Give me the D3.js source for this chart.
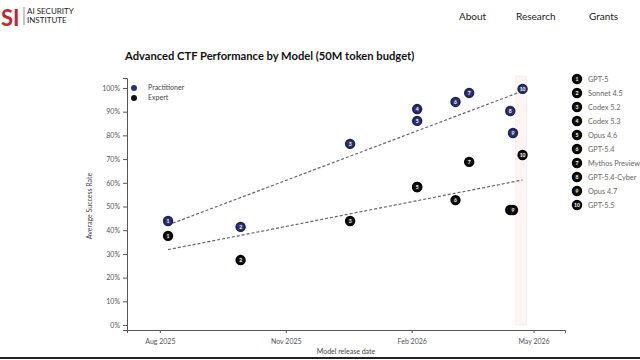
<!DOCTYPE html>
<html lang="en">
	<head>
		<meta charset="utf-8">
		<title>Advanced CTF Performance by Model</title>
		<script type="text/javascript" src="https://cdn.jsdelivr.net/npm/d3@7"></script>
		<style type="text/css">
			body { margin: 0; background: #fff; }
			svg { display: block; font-family: Lato, "Noto Sans", sans-serif; }
		</style>
	</head>
	<body>
		<script type="text/javascript">

			// Data
			var models = ["GPT-5", "Sonnet 4.5", "Codex 5.2", "Codex 5.3", "Opus 4.6",
				"GPT-5.4", "Mythos Preview", "GPT-5.4-Cyber", "Opus 4.7", "GPT-5.5"];
			var releaseDates = ["2025-08-07", "2025-09-29", "2025-12-18", "2026-02-05", "2026-02-05",
				"2026-03-05", "2026-03-15", "2026-04-14", "2026-04-16", "2026-04-23"];
			var practitioner = [43.9, 41.4, 76.4, 91.1, 86.1, 94.1, 97.9, 90.3, 81.0, 99.6];
			var expert = [37.6, 27.4, 43.9, 58.2, 58.2, 52.7, 68.8, 48.5, 48.5, 71.7];
			var yTicks = [0, 10, 20, 30, 40, 50, 60, 70, 80, 90, 100];
			var xTicks = ["2025-08-01", "2025-11-01", "2026-02-01", "2026-05-01"];
			var xDomain = ["2025-07-08", "2026-05-24"];
			var band = ["2026-04-18", "2026-04-26"];
			var navLinks = ["About", "Research", "Grants"];

			//Width and height
			var w = 640;
			var h = 360;

			var parse = d3.timeParse("%Y-%m-%d");
			var dates = releaseDates.map(parse);

			var svg = d3.select("body")
						.append("svg")
						.attr("width", w)
						.attr("height", h);

			// header
			svg.append("text").attr("x", 1).attr("y", 26)
				.attr("font-size", 22).attr("font-weight", 700)
				.attr("fill", "#c3262f").text("SI");
			svg.append("line").attr("x1", 24).attr("x2", 24).attr("y1", 7).attr("y2", 25)
				.attr("stroke", "#777").attr("stroke-width", 0.8);
			svg.append("text").attr("x", 27).attr("y", 14)
				.attr("font-size", 8).attr("fill", "#222").text("AI SECURITY");
			svg.append("text").attr("x", 27).attr("y", 23)
				.attr("font-size", 8).attr("fill", "#222").text("INSTITUTE");

			var navX = [459, 516, 589];
			svg.selectAll(".nav")
				.data(navLinks)
				.enter()
				.append("text")
				.attr("class", "nav")
				.attr("x", function(d, i) { return navX[i]; })
				.attr("y", 20)
				.attr("font-size", 10)
				.attr("fill", "#222")
				.text(function(d) { return d; });

			// title
			svg.append("text").attr("x", 125).attr("y", 60)
				.attr("font-size", 11.2).attr("font-weight", 700)
				.attr("fill", "#111")
				.text("Advanced CTF Performance by Model (50M token budget)");

			// scales
			var x = d3.scaleTime()
				.domain(xDomain.map(parse))
				.range([127, 565]);

			var y = d3.scaleLinear()
				.domain([-2.1, 104.2])
				.range([330, 78]);

			// highlighted band
			svg.append("rect")
				.attr("x", x(parse(band[0])))
				.attr("y", 76)
				.attr("width", x(parse(band[1])) - x(parse(band[0])))
				.attr("height", y(0) - 76)
				.attr("fill", "#fdf4f3")
				.attr("stroke", "#fbe6e4")
				.attr("stroke-width", 0.6);

			// axes
			var xAxis = d3.axisBottom(x)
				.tickValues(xTicks.map(parse))
				.tickFormat(d3.timeFormat("%b %Y"))
				.tickSizeOuter(0)
				.tickSize(3);

			var yAxis = d3.axisLeft(y)
				.tickValues(yTicks)
				.tickFormat(function(d) { return d + "%"; })
				.tickSizeOuter(0)
				.tickSize(4);

			var gx = svg.append("g")
				.attr("transform", "translate(0,330)")
				.call(xAxis);
			var gy = svg.append("g")
				.attr("transform", "translate(127,0)")
				.call(yAxis);

			[gx, gy].forEach(function(g) {
				g.select(".domain").attr("stroke", "#555");
				g.selectAll(".tick line").attr("stroke", "#555");
				g.selectAll(".tick text")
					.attr("fill", "#555")
					.attr("font-size", 7)
					.attr("font-family", "Lato, sans-serif");
			});
			gx.selectAll(".tick text").attr("dy", "1.1em");

			svg.append("text")
				.attr("x", 346).attr("y", 354)
				.attr("text-anchor", "middle")
				.attr("font-size", 7).attr("fill", "#444")
				.text("Model release date");

			svg.append("text")
				.attr("transform", "translate(92,206) rotate(-90)")
				.attr("text-anchor", "middle")
				.attr("font-size", 7).attr("fill", "#444")
				.text("Average Success Rate");

			// linear regression trend lines
			function trend(vals) {
				var xs = dates.map(function(d) { return +d; });
				var mx = d3.mean(xs), my = d3.mean(vals);
				var sxy = 0, sxx = 0;
				for (var i = 0; i < xs.length; i++) {
					sxy += (xs[i] - mx) * (vals[i] - my);
					sxx += (xs[i] - mx) * (xs[i] - mx);
				}
				var b = sxy / sxx;
				var ends = [d3.min(xs), d3.max(xs)];
				return ends.map(function(t) { return [t, my + b * (t - mx)]; });
			}

			var line = d3.line()
				.x(function(d) { return x(new Date(d[0])); })
				.y(function(d) { return y(d[1]); });

			[practitioner, expert].forEach(function(vals) {
				svg.append("path")
					.attr("d", line(trend(vals)))
					.attr("fill", "none")
					.attr("stroke", "#666")
					.attr("stroke-width", 1.2)
					.attr("stroke-dasharray", "3,2");
			});

			// markers
			function drawMarkers(vals, fill, stroke) {
				var g = svg.append("g");
				var m = g.selectAll("g")
					.data(vals)
					.enter()
					.append("g")
					.attr("transform", function(d, i) {
						return "translate(" + x(dates[i]) + "," + y(d) + ")";
					});
				m.append("circle")
					.attr("r", 4.4)
					.attr("fill", fill)
					.attr("stroke", stroke)
					.attr("stroke-width", 1.6);
				m.append("text")
					.attr("text-anchor", "middle")
					.attr("dy", "0.35em")
					.attr("font-size", 5)
					.attr("font-weight", 700)
					.attr("fill", "#fff")
					.text(function(d, i) { return i + 1; });
			}

			drawMarkers(expert, "#111", "#000");
			drawMarkers(practitioner, "#2b3370", "#1a2050");

			// series legend
			var series = [["Practitioner", "#2b3370"], ["Expert", "#111"]];
			var sl = svg.selectAll(".sl")
				.data(series)
				.enter()
				.append("g")
				.attr("class", "sl")
				.attr("transform", function(d, i) { return "translate(134," + (88 + i * 10) + ")"; });
			sl.append("circle").attr("r", 3).attr("fill", function(d) { return d[1]; });
			sl.append("text").attr("x", 14).attr("dy", "0.35em")
				.attr("font-size", 7).attr("fill", "#444")
				.text(function(d) { return d[0]; });

			// model legend
			var ml = svg.selectAll(".ml")
				.data(models)
				.enter()
				.append("g")
				.attr("class", "ml")
				.attr("transform", function(d, i) { return "translate(577," + (79 + i * 14) + ")"; });
			ml.append("circle").attr("r", 4.4).attr("fill", "#111")
				.attr("stroke", "#000").attr("stroke-width", 1.6);
			ml.append("text")
				.attr("text-anchor", "middle").attr("dy", "0.35em")
				.attr("font-size", 5).attr("font-weight", 700).attr("fill", "#fff")
				.text(function(d, i) { return i + 1; });
			ml.append("text").attr("x", 11).attr("dy", "0.35em")
				.attr("font-size", 7.3).attr("fill", "#666")
				.text(function(d) { return d; });

			// bottom rule
			svg.append("line").attr("x1", 0).attr("x2", w).attr("y1", 358).attr("y2", 358)
				.attr("stroke", "#222").attr("stroke-width", 2);

		</script>
	</body>
</html>
